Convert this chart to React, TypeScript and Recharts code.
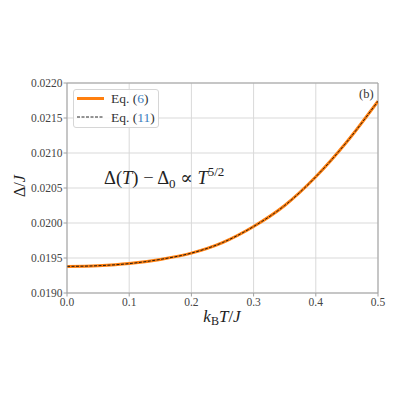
import React from 'react';
import { LineChart, Line, XAxis, YAxis, CartesianGrid, ReferenceLine } from 'recharts';

// values (k_B T / J vs Delta / J)
const temperatures = [0, 0.05, 0.1, 0.15, 0.2, 0.25, 0.3, 0.35, 0.4, 0.45, 0.5];
const gapEq6 = [0.01938, 0.01939, 0.01942, 0.01948, 0.01957, 0.01972, 0.01995, 0.02025, 0.02066, 0.02116, 0.02174];
const gapEq11 = [0.01938, 0.01939, 0.01942, 0.01948, 0.01957, 0.01972, 0.01995, 0.02025, 0.02066, 0.02116, 0.02174];

const xTicks = [0, 0.1, 0.2, 0.3, 0.4, 0.5];
const yTicks = [0.019, 0.0195, 0.02, 0.0205, 0.021, 0.0215, 0.022];

const data = temperatures.map((t, i) => ({ t, eq6: gapEq6[i], eq11: gapEq11[i] }));

const SERIF = "Liberation Serif, DejaVu Serif, serif";
const FRAME = '#a0a0a0';
const ORANGE = '#ff7f0e';
const REF_BLUE = '#3b7ec0';

const tickStyle = { fill: '#444', fontSize: 11.5, fontFamily: SERIF, style: { fontFamily: SERIF } };

const LegendBox = () => (
  <div
    style={{
      position: 'absolute',
      left: 73,
      top: 89,
      width: 86,
      height: 39,
      background: 'rgba(255,255,255,0.85)',
      border: '1px solid #d6d6d6',
      borderRadius: 3,
      boxSizing: 'border-box',
    }}
  >
    <svg width={86} height={39} style={{ position: 'absolute', left: -1, top: -1, fontFamily: SERIF }}>
      <line x1={4} x2={31} y1={9.5} y2={9.5} stroke={ORANGE} strokeWidth={3} />
      <line x1={4} x2={31} y1={28} y2={28} stroke="#111" strokeWidth={0.9} strokeDasharray="3 1.5" />
      <text x={38} y={14} fontSize={13.5} fill="#333">
        Eq. (<tspan fill={REF_BLUE}>6</tspan>)
      </text>
      <text x={38} y={32.5} fontSize={13.5} fill="#333">
        Eq. (<tspan fill={REF_BLUE}>11</tspan>)
      </text>
    </svg>
  </div>
);

export default function App() {
  return (
    <div style={{ position: 'absolute', left: 0, top: 0, width: 400, height: 400, background: '#fff', fontFamily: SERIF }}>
      <LineChart width={400} height={400} data={data} margin={{ top: 83, right: 22, bottom: 0, left: 0 }} style={{ fontFamily: SERIF }}>
        <CartesianGrid stroke="#d9d9d9" strokeWidth={1} horizontalValues={yTicks} verticalValues={xTicks} />
        <XAxis
          dataKey="t"
          type="number"
          domain={[0, 0.5]}
          ticks={xTicks}
          tickFormatter={(v: number) => v.toFixed(1)}
          tick={tickStyle}
          tickSize={3.5}
          tickMargin={1}
          stroke={FRAME}
          height={107}
          allowDataOverflow
        />
        <YAxis
          type="number"
          domain={[0.019, 0.022]}
          ticks={yTicks}
          tickFormatter={(v: number) => v.toFixed(4)}
          tick={tickStyle}
          tickSize={3.5}
          tickMargin={1}
          stroke={FRAME}
          width={67}
          allowDataOverflow
        />
        <ReferenceLine y={0.022} stroke={FRAME} strokeWidth={1} />
        <ReferenceLine x={0.5} stroke={FRAME} strokeWidth={1} />
        <Line
          type="monotone"
          dataKey="eq6"
          stroke={ORANGE}
          strokeWidth={3}
          dot={false}
          isAnimationActive={false}
        />
        <Line
          type="monotone"
          dataKey="eq11"
          stroke="#111"
          strokeWidth={0.9}
          strokeDasharray="3 1.5"
          dot={false}
          isAnimationActive={false}
        />
      </LineChart>

      <LegendBox />

      {/* panel tag */}
      <div style={{ position: 'absolute', left: 359, top: 87, fontSize: 12.5, color: '#333' }}>(b)</div>

      {/* annotation and axis labels */}
      <svg width={400} height={400} style={{ position: 'absolute', left: 0, top: 0, pointerEvents: 'none', fontFamily: SERIF }}>
        <text x={104} y={184} fontSize={18.5} fill="#222">
          Δ(<tspan fontStyle="italic">T</tspan>) − Δ
          <tspan fontSize={13} dy={4}>0</tspan>
          <tspan dy={-4}> ∝ </tspan>
          <tspan fontStyle="italic">T</tspan>
          <tspan fontSize={13} dy={-8}>5/2</tspan>
        </text>
        <text x={222} y={322} textAnchor="middle" fontSize={17} fill="#222">
          <tspan fontStyle="italic">k</tspan>
          <tspan fontSize={12} dy={3}>B</tspan>
          <tspan dy={-3} fontStyle="italic">T</tspan>
          <tspan>/</tspan>
          <tspan fontStyle="italic">J</tspan>
        </text>
        <text
          x={25}
          y={186}
          textAnchor="middle"
          fontSize={16}
          fill="#222"
          transform="rotate(-90 25 186)"
        >
          Δ/<tspan fontStyle="italic">J</tspan>
        </text>
      </svg>
    </div>
  );
}
